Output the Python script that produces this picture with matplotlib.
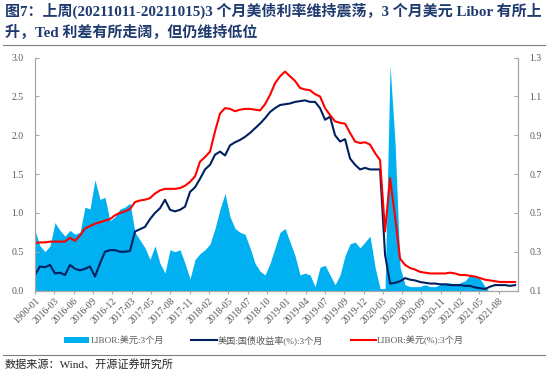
import matplotlib
matplotlib.use('Agg')
import matplotlib.pyplot as plt
import numpy as np

plt.rcParams['font.family'] = ['Liberation Serif', 'Noto Sans CJK SC', 'DejaVu Sans']

# x tick labels (category axis, as in the source chart)
tick_labels = ['1900-01', '2016-03', '2016-06', '2016-09', '2016-12', '2017-03', '2017-05',
               '2017-08', '2017-11', '2018-02', '2018-05', '2018-07', '2018-10', '2019-01',
               '2019-04', '2019-07', '2019-09', '2019-12', '2020-03', '2020-06', '2020-09',
               '2020-11', '2021-02', '2021-05', '2021-08']

# TED spread (right axis)
ted_spread = [0.41, 0.33, 0.30, 0.33, 0.45, 0.41, 0.38, 0.41, 0.39, 0.40,
              0.53, 0.52, 0.67, 0.57, 0.58, 0.46, 0.48, 0.52, 0.53, 0.55,
              0.40, 0.36, 0.32, 0.26, 0.33, 0.24, 0.19, 0.31, 0.30, 0.31,
              0.24, 0.16, 0.26, 0.29, 0.31, 0.34, 0.42, 0.52, 0.60, 0.48,
              0.42, 0.40, 0.39, 0.32, 0.24, 0.20, 0.18, 0.24, 0.32, 0.40,
              0.42, 0.35, 0.28, 0.18, 0.19, 0.18, 0.12, 0.22, 0.23, 0.18,
              0.13, 0.18, 0.28, 0.34, 0.35, 0.32, 0.35, 0.38, 0.22, 0.11,
              0.11, 1.26, 0.86, 0.22, 0.13, 0.12, 0.12, 0.12, 0.13, 0.12,
              0.12, 0.13, 0.14, 0.14, 0.13, 0.14, 0.15, 0.18, 0.17, 0.16,
              0.12, 0.09, 0.08, 0.08, 0.09, 0.08, 0.08]

# US treasury 3M yield (left axis)
ust_3m = [0.20, 0.31, 0.30, 0.33, 0.22, 0.23, 0.20, 0.33, 0.28, 0.26,
          0.28, 0.31, 0.18, 0.35, 0.50, 0.52, 0.52, 0.50, 0.50, 0.51,
          0.76, 0.79, 0.82, 0.92, 1.00, 1.06, 1.17, 1.04, 1.02, 1.04,
          1.08, 1.27, 1.33, 1.44, 1.56, 1.62, 1.75, 1.79, 1.74, 1.87,
          1.91, 1.94, 1.98, 2.03, 2.09, 2.15, 2.22, 2.30, 2.35, 2.39,
          2.40, 2.41, 2.43, 2.44, 2.45, 2.43, 2.43, 2.35, 2.20, 2.24,
          2.00, 1.92, 1.95, 1.70, 1.62, 1.56, 1.58, 1.56, 1.56, 1.56,
          0.46, 0.09, 0.10, 0.12, 0.16, 0.14, 0.13, 0.11, 0.10, 0.09,
          0.09, 0.08, 0.08, 0.07, 0.07, 0.07, 0.06, 0.06, 0.04, 0.03,
          0.02, 0.05, 0.07, 0.07, 0.07, 0.06, 0.07]

# USD LIBOR 3M (left axis)
libor_3m = [0.61, 0.62, 0.62, 0.63, 0.63, 0.63, 0.63, 0.68, 0.64, 0.71,
            0.80, 0.83, 0.86, 0.88, 0.90, 0.92, 0.97, 1.00, 1.02, 1.05,
            1.14, 1.16, 1.17, 1.19, 1.25, 1.29, 1.31, 1.31, 1.31, 1.32,
            1.35, 1.40, 1.47, 1.66, 1.72, 1.79, 2.05, 2.28, 2.35, 2.34,
            2.31, 2.33, 2.34, 2.34, 2.33, 2.32, 2.40, 2.52, 2.67, 2.76,
            2.82, 2.76, 2.70, 2.61, 2.59, 2.58, 2.53, 2.50, 2.35, 2.26,
            2.18, 2.16, 2.15, 2.03, 1.92, 1.90, 1.91, 1.88, 1.77, 1.68,
            0.76, 1.45, 0.95, 0.41, 0.33, 0.29, 0.27, 0.24, 0.23, 0.22,
            0.22, 0.22, 0.22, 0.23, 0.22, 0.20, 0.20, 0.19, 0.18, 0.16,
            0.14, 0.13, 0.12, 0.11, 0.11, 0.11, 0.11]

x = np.arange(len(libor_3m))
x_end = len(libor_3m) - 1 + 0.6

fig = plt.figure(figsize=(5.5, 3.72), dpi=100)
ax = fig.add_axes([0.0636, 0.219, 0.8784, 0.626])

# area on the right-hand scale
ax.fill_between(x, 0, ted_spread, color='#00B0F0', linewidth=0, label='LIBOR:美元:3个月')
ax.set_ylim(0.1, 1.3)
ax.set_xlim(0, x_end)

# lines on the left-hand scale, drawn over the area
ax2 = ax.twinx()
ax2.plot(x, ust_3m, color='#002060', linewidth=1.5, label='美国:国债收益率(%):3个月')
ax2.plot(x, libor_3m, color='#FF0000', linewidth=1.5, label='LIBOR:美元(%):3个月')
ax2.set_ylim(0, 3.0)
ax2.set_xlim(0, x_end)

# twinx puts the first axes' ticks on the left, so swap after it
ax.yaxis.tick_right()
ax.yaxis.set_label_position('right')
ax2.yaxis.tick_left()
ax.set_yticks([0.1, 0.3, 0.5, 0.7, 0.9, 1.1, 1.3])
ax.set_yticklabels(['0.1', '0.3', '0.5', '0.7', '0.9', '1.1', '1.3'])
ax2.set_yticks([0, 0.5, 1.0, 1.5, 2.0, 2.5, 3.0])
ax2.set_yticklabels(['0.0', '0.5', '1.0', '1.5', '2.0', '2.5', '3.0'])

tick_pos = np.arange(len(tick_labels)) * x_end / len(tick_labels)
ax.set_xticks(tick_pos)
ax.set_xticklabels(tick_labels, rotation=45, ha='right', rotation_mode='anchor')

for a in (ax, ax2):
    a.spines['top'].set_visible(False)
    for s in ('left', 'right', 'bottom'):
        a.spines[s].set_color('#A6A6A6')
        a.spines[s].set_linewidth(0.8)
    a.tick_params(axis='y', direction='in', length=3, color='#A6A6A6',
                  labelsize=7, labelcolor='#595959', pad=8)
ax.tick_params(axis='x', direction='out', length=2, color='#A6A6A6',
               labelsize=7, labelcolor='#595959', pad=2)

# legend under the axes
h1, l1 = ax.get_legend_handles_labels()
h2, l2 = ax2.get_legend_handles_labels()
fig.legend(h1 + h2, l1 + l2, loc='center', bbox_to_anchor=(0.48, 0.086), ncol=3,
           frameon=False, fontsize=6.6, handlelength=2.8, handletextpad=0.1,
           columnspacing=3.0, labelcolor='#595959')

# title, rules and source note
fig.text(0.009, 0.972, '图7：上周(20211011-20211015)3 个月美债利率维持震荡，3 个月美元 Libor 有所上',
         fontsize=10.8, fontweight='bold', color='#1F3A6E', va='center')
fig.text(0.009, 0.913, '升，Ted 利差有所走阔，但仍维持低位',
         fontsize=10.8, fontweight='bold', color='#1F3A6E', va='center')
fig.add_artist(plt.Line2D([0.005, 0.99], [0.878, 0.878], color='#7F7F7F', linewidth=0.8))
fig.add_artist(plt.Line2D([0.005, 0.99], [0.046, 0.046], color='#7F7F7F', linewidth=0.8))
fig.text(0.009, 0.02, '数据来源：Wind、开源证券研究所', fontsize=8, color='#262626', va='center')

plt.savefig('out.png', dpi=100)
